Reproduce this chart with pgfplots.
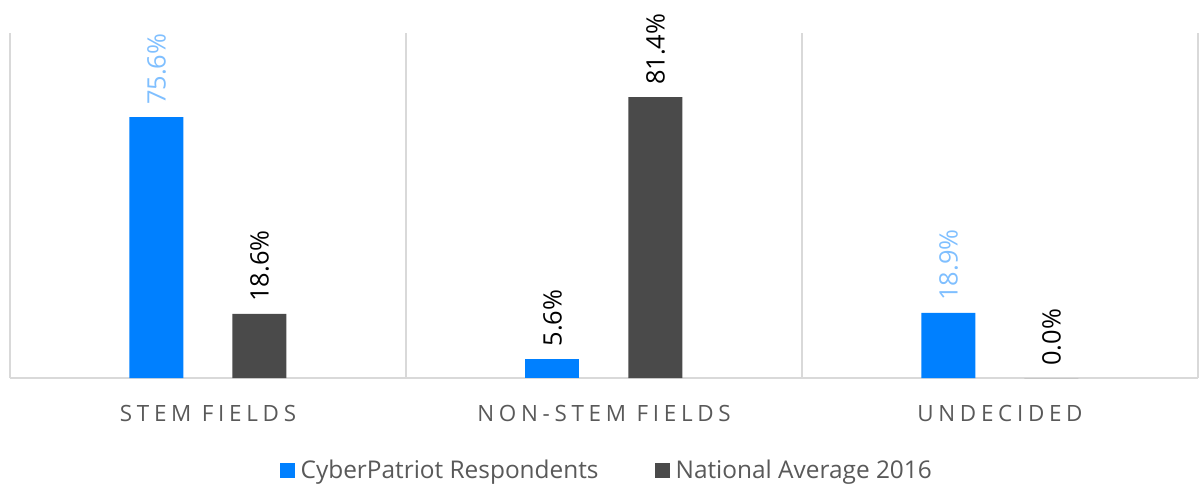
\documentclass[border=0pt]{standalone}
\usepackage{pgfplots}
\pgfplotsset{compat=1.18}
\usepackage{fontspec}
\setmainfont{Open Sans}
\newfontfamily\spacedfont[LetterSpace=21]{Open Sans}
\definecolor{cpblue}{HTML}{0080FF}
\definecolor{cpgray}{HTML}{4A4A4A}
\definecolor{lblblue}{HTML}{7FBFFF}
\definecolor{catgray}{HTML}{595959}
\definecolor{gridgray}{HTML}{D9D9D9}
\begin{document}
\begin{tikzpicture}
\begin{axis}[
  scale only axis,
  width=1188bp, height=345bp,
  xmin=-0.5, xmax=2.5, ymin=0, ymax=100,
  ybar, bar width=54bp,
  xtick={0,1,2},
  xticklabels={STEM FIELDS, NON-STEM FIELDS, UNDECIDED},
  minor xtick={-0.5,0.5,1.5,2.5},
  xminorgrids=true,
  minor grid style={draw=gridgray, line width=1.2bp},
  major tick length=0pt, minor tick length=0pt,
  ytick=\empty,
  axis x line*=bottom,
  axis y line=none,
  x axis line style={draw=gridgray, line width=1.5bp, -},
  xticklabel style={font=\spacedfont\fontsize{22.5}{24}\selectfont, text=catgray, yshift=-24bp},
  legend style={at={(0.504,-0.267)}, anchor=center, draw=none, font=\fontsize{24.5}{27}\selectfont, text=catgray,
    legend columns=2, /tikz/every even column/.append style={column sep=50bp},
    nodes={inner xsep=6bp}},
  legend image code/.code={\fill[#1] (0bp,-7.5bp) rectangle (15bp,7.5bp);},
  /pgf/number format/assume math mode=true,
  nodes near coords={\pgfmathprintnumber[fixed,fixed zerofill,precision=1,assume math mode=true]{\pgfplotspointmeta}\%},
  every node near coord/.append style={rotate=90, anchor=west, inner xsep=12bp, font=\fontsize{25.5}{28}\selectfont},
  clip=false,
]
\addplot[bar shift=-51.5bp, fill=cpblue, draw=none,
  every node near coord/.append style={text=lblblue}]
  coordinates {(0,75.6) (2,18.9)};
\addlegendentry{CyberPatriot Respondents}
\addplot[bar shift=51.5bp, fill=cpgray, draw=none,
  every node near coord/.append style={text=black}]
  coordinates {(0,18.6) (1,81.4) (2,0.0)};
\addlegendentry{National Average 2016}
\addplot[forget plot, bar shift=-51.5bp, fill=cpblue, draw=none,
  every node near coord/.append style={text=black}]
  coordinates {(1,5.6)};
\end{axis}
\path[use as bounding box] (current axis.south west) ++(-10bp,-105bp) rectangle +(1199bp,483bp);
\end{tikzpicture}
\end{document}
